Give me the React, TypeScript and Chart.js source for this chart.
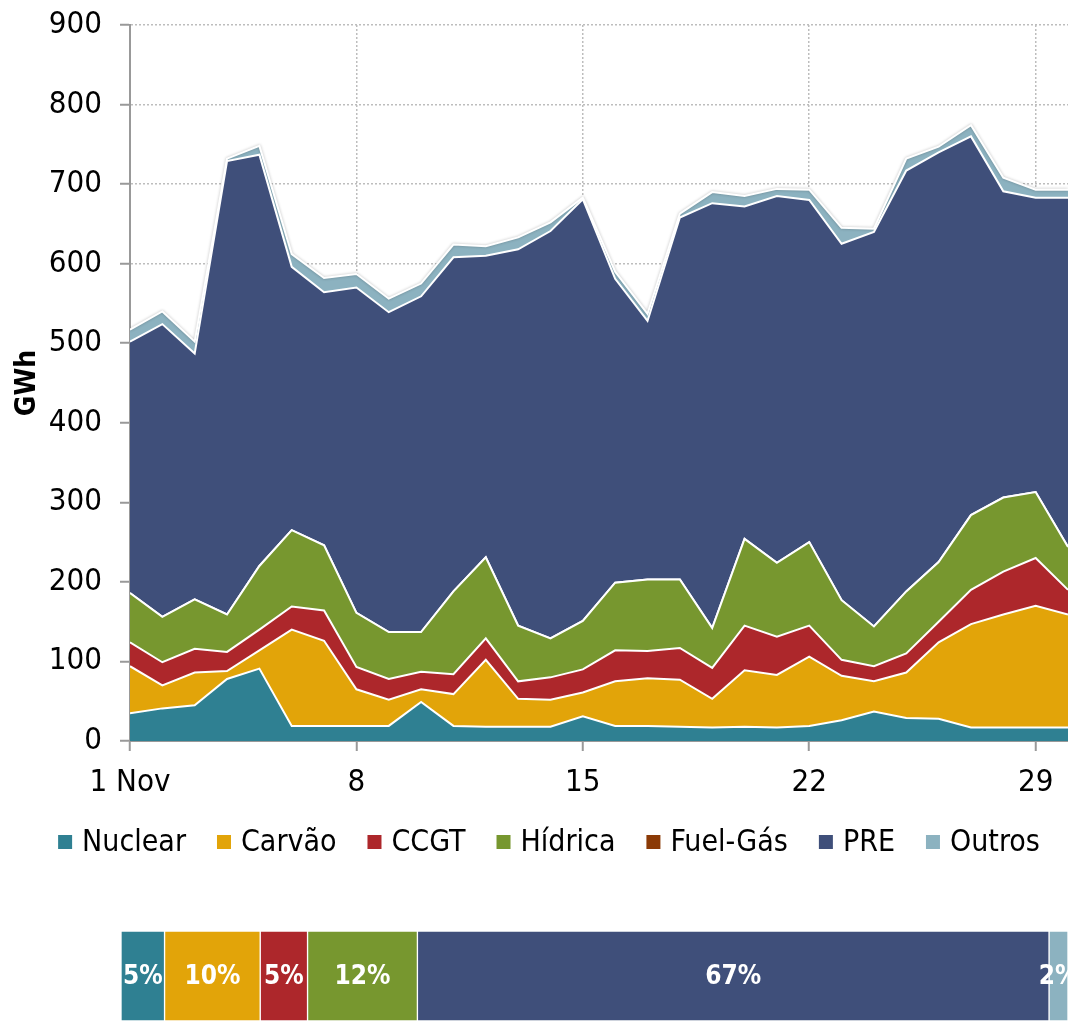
import React, { useEffect, useRef } from 'react';
import { Chart, registerables } from 'chart.js';

Chart.register(...registerables);

const FONT = "'DejaVu Sans Condensed', 'DejaVu Sans', sans-serif";

const days = [1, 2, 3, 4, 5, 6, 7, 8, 9, 10, 11, 12, 13, 14, 15, 16, 17, 18, 19, 20, 21, 22, 23, 24, 25, 26, 27, 28, 29, 30];
const xTickDays = [1, 8, 15, 22, 29];
const xTickLabels = ['1 Nov', '8', '15', '22', '29'];

const seriesNames = ['Nuclear', 'Carvão', 'CCGT', 'Hídrica', 'Fuel-Gás', 'PRE', 'Outros'];
const seriesColors = ['#2F8092', '#E2A409', '#AD272B', '#77972F', '#8B3A06', '#3F4F7A', '#8CB2C0'];

const nuclear = [35, 41, 45, 78, 91, 19, 19, 19, 19, 49, 19, 18, 18, 18, 31, 19, 19, 18, 17, 18, 17, 19, 26, 37, 29, 28, 17, 17, 17, 17];
const carvao = [59, 29, 41, 10, 23, 121, 107, 46, 33, 16, 40, 84, 35, 34, 30, 56, 60, 59, 36, 71, 66, 87, 56, 38, 57, 96, 130, 142, 153, 142];
const ccgt = [30, 29, 30, 24, 26, 29, 38, 28, 26, 22, 25, 27, 22, 28, 29, 39, 34, 40, 39, 56, 48, 39, 20, 19, 24, 26, 43, 54, 60, 31];
const hidrica = [62, 57, 62, 47, 80, 96, 82, 68, 59, 50, 104, 102, 70, 49, 61, 85, 90, 86, 50, 109, 93, 105, 75, 50, 78, 75, 94, 93, 83, 54];
const fuelGas = [0, 0, 0, 0, 0, 0, 0, 0, 0, 0, 0, 0, 0, 0, 0, 0, 0, 0, 0, 0, 0, 0, 0, 0, 0, 0, 0, 0, 0, 0];
const pre = [316, 368, 309, 570, 517, 331, 318, 409, 402, 422, 420, 379, 473, 512, 530, 382, 325, 455, 534, 418, 461, 430, 448, 496, 529, 515, 476, 385, 370, 439];
const outros = [15, 16, 15, 3, 11, 16, 18, 17, 17, 16, 16, 12, 15, 11, 2, 9, 9, 5, 14, 13, 9, 13, 20, 4, 15, 7, 14, 17, 10, 10];

// share of total (%), for the bottom bar
const sharePct = [4.6, 10.1, 5.0, 11.6, 0, 66.7, 2.0];

export default function App() {
  const mainRef = useRef<HTMLCanvasElement>(null);
  const barRef = useRef<HTMLCanvasElement>(null);

  useEffect(() => {
    const series = [nuclear, carvao, ccgt, hidrica, fuelGas, pre, outros];

    const shadowPlugin = {
      id: 'topShadow',
      beforeDatasetDraw(chart: any, args: any) {
        if (args.index === 6) {
          const c = chart.ctx;
          c.save();
          c.shadowColor = 'rgba(0,0,0,0.28)';
          c.shadowBlur = 3;
        }
      },
      afterDatasetDraw(chart: any, args: any) {
        if (args.index === 6) chart.ctx.restore();
      },
    };

    const legendPlugin = {
      id: 'customLegend',
      afterDraw(chart: any) {
        const ctx = chart.ctx;
        ctx.save();
        ctx.font = `30px ${FONT}`;
        const box = 14;
        const textGap = 10;
        const itemGap = 31;
        const widths = seriesNames.map((n) => ctx.measureText(n).width);
        const total = widths.reduce((a, w) => a + box + textGap + w, 0) + itemGap * (seriesNames.length - 1);
        const centerX = (chart.chartArea.left + chart.chartArea.right) / 2 - 50;
        let x = centerX - total / 2;
        const y = chart.chartArea.bottom + 101;
        ctx.textBaseline = 'middle';
        ctx.textAlign = 'left';
        seriesNames.forEach((n, i) => {
          ctx.fillStyle = seriesColors[i];
          ctx.fillRect(x, y - box / 2, box, box);
          ctx.fillStyle = '#000';
          ctx.fillText(n, x + box + textGap, y + 1);
          x += box + textGap + widths[i] + itemGap;
        });
        ctx.restore();
      },
    };

    const gridOpts = {
      color: '#bdbdbd',
      lineWidth: 1.5,
      tickColor: '#999',
      tickLength: 10,
      tickWidth: 2,
      tickBorderDash: [],
    };
    const borderOpts = { display: true, color: '#999', width: 2, dash: [2, 2] };

    const main = new Chart(mainRef.current as HTMLCanvasElement, {
      type: 'line',
      data: {
        labels: days,
        datasets: seriesNames.map((name, i) => ({
          label: name,
          data: series[i],
          backgroundColor: seriesColors[i],
          borderColor: '#ffffff',
          borderWidth: 2,
          fill: i === 0 ? 'origin' : '-1',
          pointRadius: 0,
          pointHoverRadius: 0,
          tension: 0,
        })),
      },
      options: {
        responsive: false,
        animation: false,
        devicePixelRatio: 1,
        layout: { padding: { top: 25, left: 0, right: 0, bottom: 79 } },
        plugins: { legend: { display: false }, tooltip: { enabled: false } },
        scales: {
          x: {
            type: 'linear',
            min: 1,
            max: 30,
            afterBuildTicks: (s: any) => {
              s.ticks = xTickDays.map((v) => ({ value: v }));
            },
            afterFit: (s: any) => {
              s.height = 60;
            },
            ticks: {
              callback: (v: any) => xTickLabels[xTickDays.indexOf(Number(v))] ?? String(v),
              font: { family: FONT, size: 31 },
              color: '#000',
              padding: 13,
              maxRotation: 0,
              autoSkip: false,
            },
            grid: gridOpts,
            border: borderOpts,
          },
          y: {
            stacked: true,
            min: 0,
            max: 900,
            afterFit: (s: any) => {
              s.width = 130;
              s.paddingTop = 0;
              s.paddingBottom = 0;
            },
            ticks: {
              stepSize: 100,
              font: { family: FONT, size: 31 },
              color: '#000',
              padding: 18,
            },
            title: {
              display: true,
              text: 'GWh',
              color: '#000',
              font: { family: FONT, size: 28, weight: 'bold', lineHeight: 1.2 },
              padding: { top: 11, bottom: 0 },
            },
            grid: gridOpts,
            border: borderOpts,
          },
        },
      } as any,
      plugins: [shadowPlugin, legendPlugin],
    });

    const labelPlugin = {
      id: 'segLabels',
      afterDatasetsDraw(chart: any) {
        const ctx = chart.ctx;
        ctx.save();
        ctx.font = `bold 26px ${FONT}`;
        ctx.fillStyle = '#fff';
        ctx.textAlign = 'center';
        ctx.textBaseline = 'middle';
        chart.data.datasets.forEach((ds: any, i: number) => {
          const v = ds.data[0];
          if (!v) return;
          const el = chart.getDatasetMeta(i).data[0];
          const cx = (el.x + el.base) / 2;
          ctx.fillText(`${Math.round(v)}%`, cx, el.y + 1);
        });
        ctx.restore();
      },
    };

    const bar = new Chart(barRef.current as HTMLCanvasElement, {
      type: 'bar',
      data: {
        labels: [''],
        datasets: seriesNames.map((name, i) => ({
          label: name,
          data: [sharePct[i]],
          backgroundColor: seriesColors[i],
          borderColor: '#ffffff',
          borderWidth: 1,
          borderSkipped: false,
          barPercentage: 1,
          categoryPercentage: 1,
        })),
      },
      options: {
        indexAxis: 'y',
        responsive: false,
        animation: false,
        devicePixelRatio: 1,
        layout: { padding: { left: 121, right: 0, top: 51, bottom: 2 } },
        plugins: { legend: { display: false }, tooltip: { enabled: false } },
        scales: {
          x: { stacked: true, display: false, min: 0, max: 100 },
          y: { stacked: true, display: false },
        },
      } as any,
      plugins: [labelPlugin],
    });

    return () => {
      main.destroy();
      bar.destroy();
    };
  }, []);

  return (
    <div style={{ position: 'absolute', left: 0, top: 0, width: 1068, height: 1023, background: '#fff' }}>
      <canvas ref={mainRef} width={1068} height={880} style={{ position: 'absolute', left: 0, top: 0 }} />
      <canvas ref={barRef} width={1068} height={143} style={{ position: 'absolute', left: 0, top: 880 }} />
    </div>
  );
}
